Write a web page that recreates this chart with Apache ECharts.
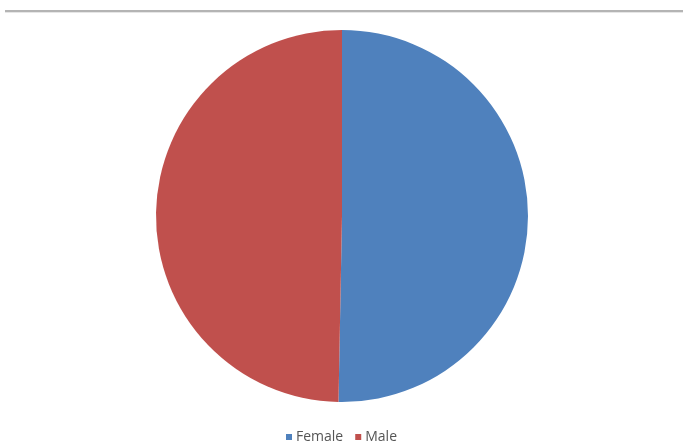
<!DOCTYPE html>
<html>
<head>
<meta charset="utf-8">
<script src="https://cdn.jsdelivr.net/npm/echarts@6/dist/echarts.min.js"></script>
<style>html,body{margin:0;padding:0;background:#fff}#c{width:683px;height:444px}</style>
</head>
<body>
<div id="c"></div>
<script>
var categories = ['Female', 'Male'];
var values = [50.3, 49.7];
var colors = ['#4F81BD', '#C0504D'];

var chart = echarts.init(document.getElementById('c'), null, {renderer: 'canvas'});
chart.setOption({
  animation: false,
  backgroundColor: '#fff',
  color: colors,
  graphic: [
    {type: 'rect', shape: {x: 5, y: 10, width: 678, height: 2}, style: {fill: '#b4b4b4'}},
    {type: 'rect', shape: {x: 5, y: 12, width: 678, height: 1}, style: {fill: '#e6e6e6'}}
  ],
  legend: {
    top: 430,
    left: 'center',
    padding: 0,
    itemWidth: 6,
    itemHeight: 6,
    itemGap: 12,
    icon: 'rect',
    textStyle: {fontFamily: 'Open Sans', fontSize: 14, color: '#555', padding: [0, 0, 0, -1]},
    data: categories
  },
  series: [{
    type: 'pie',
    center: [342, 216],
    radius: [0, 186],
    startAngle: 90,
    clockwise: true,
    label: {show: false},
    labelLine: {show: false},
    itemStyle: {borderWidth: 0},
    emphasis: {disabled: true},
    data: categories.map(function (c, i) { return {name: c, value: values[i]}; })
  }]
});
</script>
</body>
</html>
